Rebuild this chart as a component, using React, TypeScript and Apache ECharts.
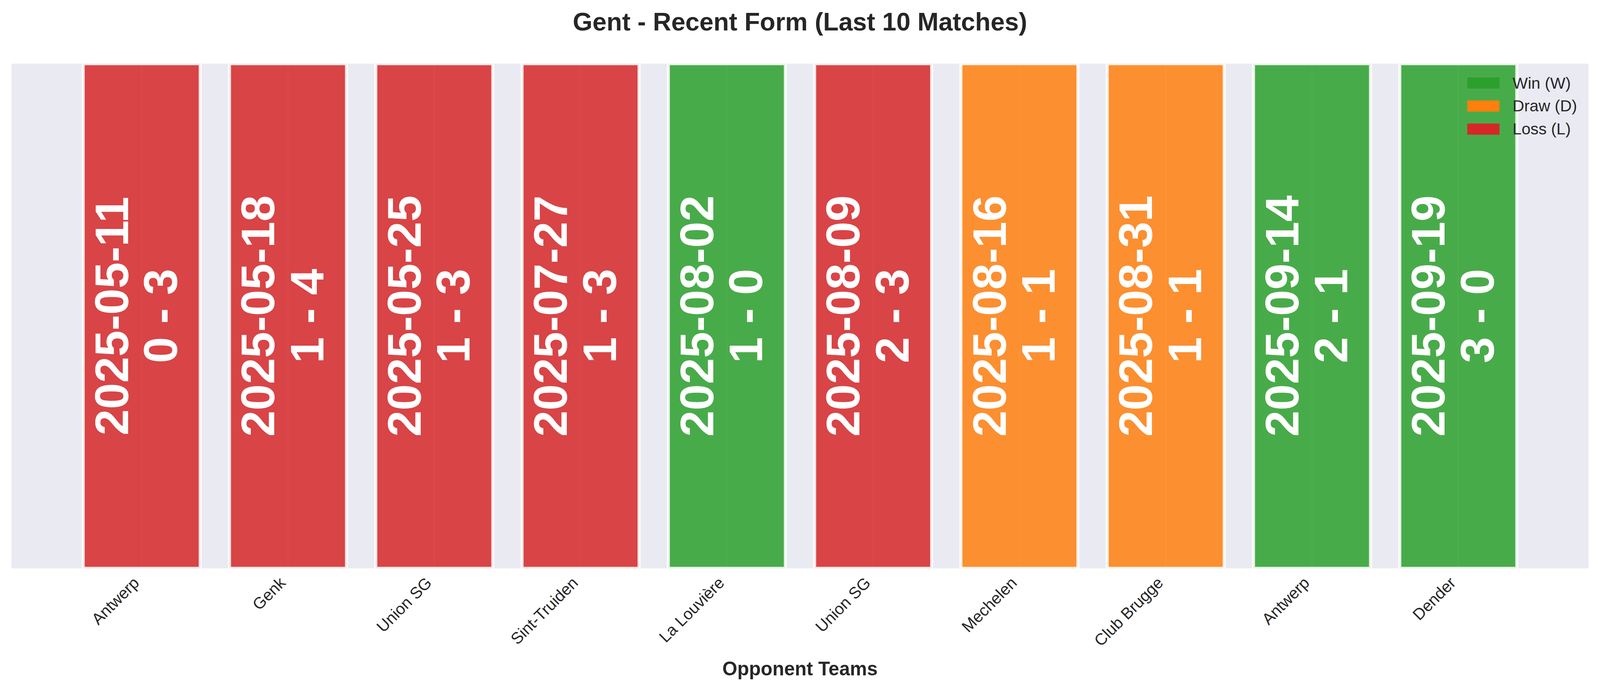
import React, {useEffect, useRef} from 'react';
import * as echarts from 'echarts';

const teams = ['Antwerp', 'Genk', 'Union SG', 'Sint-Truiden', 'La Louvière', 'Union SG', 'Mechelen', 'Club Brugge', 'Antwerp', 'Dender'];
const dates = ['2025-05-11', '2025-05-18', '2025-05-25', '2025-07-27', '2025-08-02', '2025-08-09', '2025-08-16', '2025-08-31', '2025-09-14', '2025-09-19'];
const scores = ['0 - 3', '1 - 4', '1 - 3', '1 - 3', '1 - 0', '2 - 3', '1 - 1', '1 - 1', '2 - 1', '3 - 0'];
const results = ['L', 'L', 'L', 'L', 'W', 'L', 'D', 'D', 'W', 'W'];

const resultTypes = [
    {key: 'W', name: 'Win (W)', color: '#2ca02c', fill: 'rgba(44,160,44,0.85)'},
    {key: 'D', name: 'Draw (D)', color: '#ff7f0e', fill: 'rgba(255,127,14,0.85)'},
    {key: 'L', name: 'Loss (L)', color: '#d62728', fill: 'rgba(214,39,40,0.85)'}
];

const FONT = '"Liberation Sans", Arial, sans-serif';
const TEXT = '#262626';

const App = () => {
    const ref = useRef<HTMLDivElement>(null);

    useEffect(() => {
        const el = ref.current as HTMLDivElement;
        const chart = echarts.init(el, null, {renderer: 'svg'});
        // everything below was measured on a 4170x1769 picture
        const sx = chart.getWidth() / 4170;
        const sy = chart.getHeight() / 1769;
        const s = Math.min(sx, sy);

        const series = resultTypes.map(rt => ({
            type: 'custom',
            name: rt.name,
            clip: true,
            itemStyle: {color: rt.color},
            data: results.map((r, i) => (r === rt.key ? [i, 1] : null)).filter(d => d !== null),
            renderItem: (params: any, api: any) => {
                const i = api.value(0);
                const tl = api.coord([i - 0.4, 1]);
                const br = api.coord([i + 0.4, 0]);
                const mid = api.coord([i, 0.5]);
                return {
                    type: 'group',
                    children: [
                        {
                            type: 'line',
                            shape: {x1: mid[0], y1: tl[1], x2: mid[0], y2: br[1]},
                            style: {stroke: '#ffffff', lineWidth: 4 * s}
                        },
                        {
                            type: 'rect',
                            shape: {x: tl[0], y: tl[1], width: br[0] - tl[0], height: br[1] - tl[1]},
                            style: {fill: rt.fill, stroke: 'rgba(255,255,255,0.85)', lineWidth: 8 * s}
                        },
                        {
                            type: 'text',
                            x: mid[0] - 14 * s,
                            y: mid[1],
                            rotation: Math.PI / 2,
                            style: {
                                text: dates[i] + '\n' + scores[i],
                                fill: '#ffffff',
                                fontFamily: FONT,
                                fontWeight: 'bold',
                                fontSize: 123 * s,
                                lineHeight: 128 * s,
                                align: 'center',
                                verticalAlign: 'middle'
                            }
                        }
                    ]
                };
            }
        }));

        chart.setOption({
            animation: false,
            backgroundColor: '#ffffff',
            textStyle: {fontFamily: FONT},
            title: {
                text: 'Gent - Recent Form (Last 10 Matches)',
                left: 'center',
                top: 23 * sy,
                padding: 0,
                textStyle: {fontSize: 66 * s, fontWeight: 'bold', color: TEXT, fontFamily: FONT}
            },
            legend: {
                orient: 'vertical',
                left: 3819 * sx,
                top: 183 * sy,
                itemWidth: 84 * s,
                itemHeight: 29 * s,
                itemGap: 10 * s,
                icon: 'rect',
                selectedMode: false,
                data: resultTypes.map(rt => rt.name),
                textStyle: {
                    fontSize: 42 * s,
                    lineHeight: 50 * s,
                    color: TEXT,
                    fontFamily: FONT,
                    padding: [0, 0, 0, 29 * s]
                }
            },
            grid: {
                left: 30 * sx,
                right: 30 * sx,
                top: 163 * sy,
                bottom: 314 * sy,
                show: true,
                backgroundColor: '#EAEAF2',
                borderWidth: 0
            },
            xAxis: {
                type: 'value',
                min: -0.89,
                max: 9.89,
                name: 'Opponent Teams',
                nameLocation: 'middle',
                nameGap: 232 * sy,
                nameTextStyle: {fontSize: 50 * s, fontWeight: 'bold', color: TEXT, fontFamily: FONT},
                axisLine: {show: false},
                axisTick: {show: false},
                splitLine: {show: false},
                axisLabel: {
                    customValues: teams.map((_, i) => i),
                    formatter: (v: number) => teams[Math.round(v)],
                    rotate: 45,
                    margin: 16 * sy,
                    padding: [0, 20 * s, 0, 0],
                    fontSize: 42 * s,
                    color: TEXT,
                    fontFamily: FONT
                }
            },
            yAxis: {type: 'value', min: 0, max: 1, show: false},
            series
        });

        return () => chart.dispose();
    }, []);

    return (
        <div
            ref={ref}
            style={{position: 'fixed', left: 0, top: 0, width: '100vw', height: '100vh', background: '#ffffff'}}
        />
    );
};

export default App;
